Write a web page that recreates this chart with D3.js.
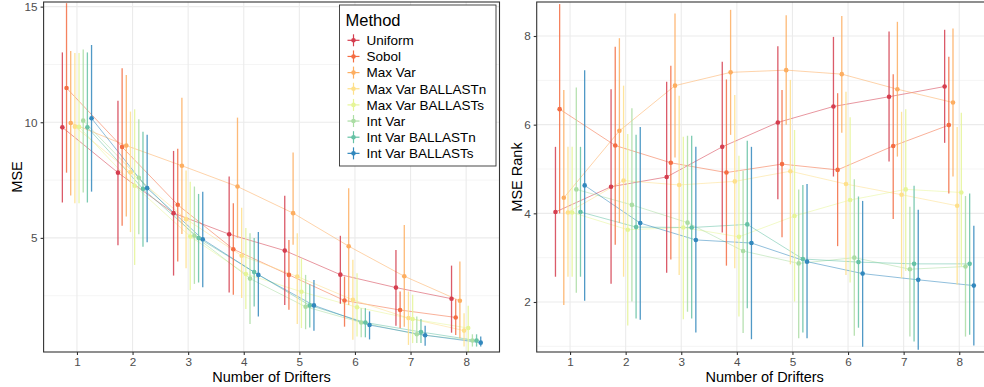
<!DOCTYPE html>
<html>
<head>
<meta charset="utf-8">
<script src="https://cdn.jsdelivr.net/npm/d3@7"></script>
<style>
  body { margin: 0; background: #fff; }
  svg { display: block; font-family: "Liberation Sans", Arial, sans-serif; }
</style>
</head>
<body>
<div id="chart"></div>
<script>
// categories
const methods = ["Uniform", "Sobol", "Max Var", "Max Var BALLASTn", "Max Var BALLASTs",
  "Int Var", "Int Var BALLASTn", "Int Var BALLASTs"];
const colors = ["#D53E4F", "#F46D43", "#FDAE61", "#FEE08B", "#E6F598", "#ABDDA4", "#66C2A5", "#3288BD"];
const drifters = [1, 2, 3, 4, 5, 6, 7, 8];

// MSE (left panel), one row per method
const mseMean = [
  [9.78, 7.82, 6.07, 5.16, 4.45, 3.41, 2.85, 2.37],
  [11.48, 8.93, 6.43, 4.51, 3.40, 2.29, 1.88, 1.56],
  [9.97, 8.99, 8.12, 7.22, 6.07, 4.64, 3.34, 2.28],
  [9.81, 7.84, 5.81, 4.23, 3.33, 2.32, 1.53, 0.99],
  [9.80, 7.25, 5.06, 3.44, 2.67, 2.00, 1.49, 1.10],
  [10.07, 7.60, 5.09, 3.24, 2.02, 1.34, 0.83, 0.56],
  [9.78, 7.12, 4.99, 3.52, 2.08, 1.34, 0.93, 0.56],
  [10.17, 7.15, 4.94, 3.40, 2.08, 1.23, 0.79, 0.47]
];
const mseHigh = [
  [13.02, 10.93, 8.76, 7.65, 6.82, 5.09, 4.48, 3.80],
  [15.15, 12.33, 8.85, 6.50, 4.91, 3.33, 2.68, 2.35],
  [13.08, 12.04, 11.06, 10.20, 8.69, 7.15, 5.56, 3.98],
  [13.00, 10.46, 7.91, 6.30, 5.20, 4.05, 2.68, 1.74],
  [13.00, 10.56, 7.43, 5.43, 4.12, 3.47, 2.54, 2.06],
  [13.15, 10.13, 7.22, 5.20, 3.40, 1.96, 1.60, 0.83],
  [13.02, 9.59, 6.90, 4.99, 3.00, 1.96, 1.49, 0.83],
  [13.34, 9.46, 7.00, 5.25, 3.18, 1.82, 1.20, 0.73]
];
const mseLow = [
  [6.53, 4.68, 3.37, 2.64, 2.10, 2.15, 1.20, 0.90],
  [7.82, 5.52, 3.98, 2.54, 1.89, 1.16, 1.10, 0.80],
  [6.83, 5.92, 5.17, 5.00, 4.70, 2.10, 1.16, 0.66],
  [6.50, 5.25, 3.69, 2.40, 1.28, 0.59, 0.37, 0.30],
  [6.50, 3.83, 2.75, 1.92, 1.10, 0.73, 0.45, 0.06],
  [6.96, 5.16, 3.01, 1.28, 1.05, 0.70, 0.45, 0.30],
  [6.53, 4.62, 3.07, 2.03, 1.12, 0.70, 0.45, 0.30],
  [7.00, 4.81, 2.87, 1.60, 0.98, 0.61, 0.34, 0.30]
];

// MSE Rank (right panel)
const rankMean = [
  [4.03, 4.60, 4.82, 5.50, 6.05, 6.41, 6.63, 6.86],
  [6.35, 5.53, 5.14, 4.92, 5.11, 4.98, 5.52, 5.99],
  [4.35, 5.86, 6.88, 7.18, 7.23, 7.14, 6.80, 6.50],
  [4.02, 4.74, 4.64, 4.72, 4.95, 4.66, 4.42, 4.17],
  [4.02, 3.63, 3.68, 3.47, 3.94, 4.30, 4.54, 4.47],
  [4.54, 4.19, 3.79, 3.15, 2.87, 3.00, 2.74, 2.80],
  [4.03, 3.69, 3.68, 3.75, 2.97, 2.90, 2.86, 2.86],
  [4.63, 3.78, 3.40, 3.33, 2.91, 2.64, 2.50, 2.37]
];
const rankHigh = [
  [5.50, 6.80, 6.97, 7.42, 7.77, 7.98, 8.10, 8.14],
  [8.72, 7.76, 7.33, 7.02, 6.78, 6.71, 7.14, 7.53],
  [6.78, 7.95, 8.51, 8.59, 8.47, 8.45, 8.32, 8.17],
  [5.50, 6.88, 6.65, 6.67, 7.01, 6.74, 6.29, 5.95],
  [5.50, 5.79, 5.73, 5.30, 5.88, 6.17, 6.35, 6.27],
  [6.84, 6.37, 5.75, 4.96, 4.54, 4.77, 4.15, 4.39],
  [5.50, 5.77, 5.75, 5.64, 4.64, 4.38, 4.62, 4.45],
  [7.23, 5.95, 5.50, 5.50, 4.66, 4.28, 4.08, 3.72]
];
const rankLow = [
  [2.57, 2.41, 2.66, 3.57, 4.32, 4.83, 5.17, 5.59],
  [4.00, 3.29, 2.96, 2.82, 3.46, 3.26, 3.87, 4.45],
  [1.93, 3.78, 5.26, 5.77, 6.00, 5.82, 5.28, 4.83],
  [2.57, 2.57, 2.61, 2.76, 2.85, 2.61, 2.54, 2.39],
  [2.57, 1.47, 1.61, 1.67, 2.01, 2.44, 2.70, 2.80],
  [2.21, 2.01, 1.78, 1.30, 1.18, 1.24, 1.22, 1.22],
  [2.57, 1.63, 1.63, 1.86, 1.31, 1.42, 1.11, 1.26],
  [2.03, 1.60, 1.31, 1.16, 1.18, 0.99, 0.92, 1.02]
];

// tick labels
const mseTicks = [5, 10, 15];
const mseMinor = [2.5, 7.5, 12.5];
const rankTicks = [2, 4, 6, 8];
const rankMinor = [1, 3, 5, 7];

const W = 984, H = 387;
const dodge = 0.6;

const svg = d3.select("#chart").append("svg")
  .attr("width", W)
  .attr("height", H);

function drawPanel(opts) {
  const x = d3.scaleLinear().domain([0.4, 8.6]).range([opts.left, opts.left + 455.9]);
  const y = d3.scaleLinear().domain(opts.yDomain).range([352, 2]);
  const g = svg.append("g");

  const clipId = "clip" + opts.id;
  g.append("clipPath").attr("id", clipId)
    .append("rect")
    .attr("x", opts.left).attr("y", 2)
    .attr("width", 455.9).attr("height", 350);

  const body = g.append("g").attr("clip-path", `url(#${clipId})`);

  // grid
  body.selectAll(".minor").data(opts.minor).enter().append("line")
    .attr("x1", opts.left).attr("x2", opts.left + 455.9)
    .attr("y1", d => y(d)).attr("y2", d => y(d))
    .attr("stroke", "#EBEBEB").attr("stroke-width", 0.55);
  body.selectAll(".major").data(opts.ticks).enter().append("line")
    .attr("x1", opts.left).attr("x2", opts.left + 455.9)
    .attr("y1", d => y(d)).attr("y2", d => y(d))
    .attr("stroke", "#EBEBEB").attr("stroke-width", 1.1);
  body.selectAll(".vgrid").data(drifters).enter().append("line")
    .attr("x1", d => x(d)).attr("x2", d => x(d))
    .attr("y1", 2).attr("y2", 352)
    .attr("stroke", "#EBEBEB").attr("stroke-width", 1.1);

  const pos = (i, j) => x(drifters[j] - dodge / 2 + dodge / 16 + i * dodge / 8);

  // connecting lines
  methods.forEach((m, i) => {
    const line = d3.line()
      .x((d, j) => pos(i, j))
      .y(d => y(d));
    body.append("path")
      .datum(opts.mean[i])
      .attr("d", line)
      .attr("fill", "none")
      .attr("stroke", colors[i])
      .attr("stroke-width", 0.9)
      .attr("opacity", 0.6);
  });

  // point ranges
  methods.forEach((m, i) => {
    const grp = body.append("g");
    grp.selectAll("line").data(drifters).enter().append("line")
      .attr("x1", (d, j) => pos(i, j)).attr("x2", (d, j) => pos(i, j))
      .attr("y1", (d, j) => y(opts.low[i][j]))
      .attr("y2", (d, j) => y(opts.high[i][j]))
      .attr("stroke", colors[i])
      .attr("stroke-width", 1.3)
      .attr("opacity", 0.85);
    grp.selectAll("circle").data(drifters).enter().append("circle")
      .attr("cx", (d, j) => pos(i, j))
      .attr("cy", (d, j) => y(opts.mean[i][j]))
      .attr("r", 2.3)
      .attr("fill", colors[i]);
  });

  // border
  g.append("rect")
    .attr("x", opts.left).attr("y", 2)
    .attr("width", 455.9).attr("height", 350)
    .attr("fill", "none")
    .attr("stroke", "#333333")
    .attr("stroke-width", 1.1);

  // axes
  const xAxis = d3.axisBottom(x).tickValues(drifters).tickSize(3).tickPadding(3).tickFormat(d3.format("d"));
  const yAxis = d3.axisLeft(y).tickValues(opts.ticks).tickSize(3).tickPadding(3).tickFormat(d3.format("d"));

  const gx = g.append("g").attr("transform", "translate(0,352)").call(xAxis);
  const gy = g.append("g").attr("transform", `translate(${opts.left},0)`).call(yAxis);
  [gx, gy].forEach(a => {
    a.select(".domain").remove();
    a.selectAll(".tick line").attr("stroke", "#333333").attr("stroke-width", 1.1);
    a.selectAll(".tick text")
      .attr("fill", "#4D4D4D")
      .style("font-size", "11.7px")
      .style("font-family", "'Liberation Sans', Arial, sans-serif");
  });

  g.append("text")
    .attr("x", opts.left + 455.9 / 2)
    .attr("y", 382)
    .attr("text-anchor", "middle")
    .style("font-size", "14.5px")
    .text("Number of Drifters");

  g.append("text")
    .attr("transform", `translate(${opts.titleX},177) rotate(-90)`)
    .attr("text-anchor", "middle")
    .style("font-size", "14.5px")
    .text(opts.yTitle);
}

drawPanel({
  id: "mse", left: 43.6, yDomain: [0.065, 15.2],
  ticks: mseTicks, minor: mseMinor,
  mean: mseMean, low: mseLow, high: mseHigh,
  yTitle: "MSE", titleX: 22
});

drawPanel({
  id: "rank", left: 536.7, yDomain: [0.872, 8.767],
  ticks: rankTicks, minor: rankMinor,
  mean: rankMean, low: rankLow, high: rankHigh,
  yTitle: "MSE Rank", titleX: 522
});

// legend
const legend = svg.append("g");
legend.append("rect")
  .attr("x", 339.5).attr("y", 5)
  .attr("width", 156.5).attr("height", 161)
  .attr("fill", "#fff")
  .attr("stroke", "#333333")
  .attr("stroke-width", 0.9);
legend.append("text")
  .attr("x", 345.5).attr("y", 26)
  .style("font-size", "16.5px")
  .text("Method");
const items = legend.selectAll(".item").data(methods).enter().append("g")
  .attr("transform", (d, i) => `translate(353.5,${40.3 + i * 16.15})`);
items.append("line")
  .attr("x1", -6).attr("x2", 6)
  .attr("stroke", (d, i) => colors[i]).attr("stroke-width", 1.2);
items.append("line")
  .attr("y1", -6).attr("y2", 6)
  .attr("stroke", (d, i) => colors[i]).attr("stroke-width", 1.2);
items.append("circle")
  .attr("r", 2.3)
  .attr("fill", (d, i) => colors[i]);
items.append("text")
  .attr("x", 13)
  .attr("dy", "0.36em")
  .style("font-size", "13.5px")
  .text(d => d);
</script>
</body>
</html>
